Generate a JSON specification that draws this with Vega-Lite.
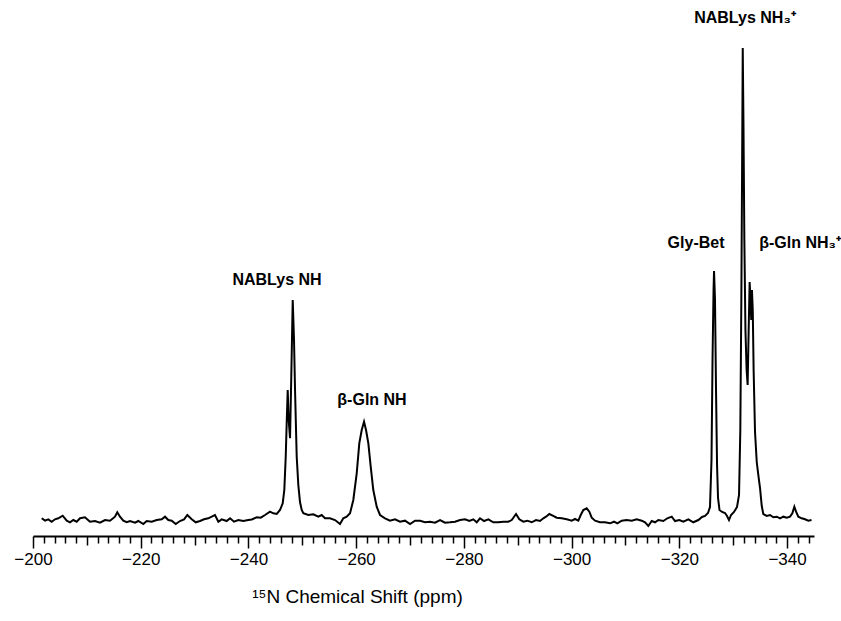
{
  "$schema": "https://vega.github.io/schema/vega-lite/v6.json",
  "width": 781,
  "height": 536,
  "autosize": {"type": "none"},
  "padding": {"left": 33, "top": 0, "right": 27, "bottom": 85},
  "background": "white",
  "config": {"view": {"stroke": null}, "font": "Liberation Sans"},
  "datasets": {
    "spectrum": [
      {"shift": -201.62, "intensity": -0.06}, {"shift": -202.23, "intensity": -0.57}, {"shift": -202.84, "intensity": -0.28},
      {"shift": -203.47, "intensity": -0.79}, {"shift": -204.08, "intensity": -0.28}, {"shift": -204.70, "intensity": -0.06},
      {"shift": -205.51, "intensity": 0.49}, {"shift": -206.26, "intensity": -0.57}, {"shift": -206.87, "intensity": -0.91},
      {"shift": -207.48, "intensity": -0.43}, {"shift": -208.11, "intensity": -0.79}, {"shift": -208.73, "intensity": -0.06},
      {"shift": -209.65, "intensity": 0.15}, {"shift": -210.58, "intensity": -0.79}, {"shift": -211.51, "intensity": -0.64},
      {"shift": -212.44, "intensity": -1.00}, {"shift": -213.37, "intensity": -0.43}, {"shift": -214.30, "intensity": -0.57},
      {"shift": -215.22, "intensity": 0.28}, {"shift": -215.65, "intensity": 1.21}, {"shift": -216.15, "intensity": 0.28},
      {"shift": -216.77, "intensity": -0.57}, {"shift": -217.40, "intensity": -0.91}, {"shift": -218.01, "intensity": -0.64},
      {"shift": -218.94, "intensity": -1.00}, {"shift": -219.55, "intensity": -0.64}, {"shift": -220.48, "intensity": -1.28},
      {"shift": -221.11, "intensity": -0.64}, {"shift": -222.04, "intensity": -0.79}, {"shift": -222.97, "intensity": -0.43},
      {"shift": -223.90, "intensity": -0.28}, {"shift": -224.51, "intensity": 0.28}, {"shift": -225.12, "intensity": -0.43},
      {"shift": -225.75, "intensity": -0.57}, {"shift": -226.50, "intensity": -1.28}, {"shift": -227.29, "intensity": -0.64},
      {"shift": -228.04, "intensity": -0.28}, {"shift": -228.65, "intensity": 0.64}, {"shift": -229.47, "intensity": -0.28},
      {"shift": -230.21, "intensity": -0.91}, {"shift": -231.01, "intensity": -0.64}, {"shift": -231.75, "intensity": -0.28},
      {"shift": -232.55, "intensity": -0.06}, {"shift": -233.18, "intensity": 0.28}, {"shift": -233.79, "intensity": 0.64},
      {"shift": -234.41, "intensity": -0.79}, {"shift": -235.04, "intensity": -0.28}, {"shift": -235.96, "intensity": -0.64},
      {"shift": -236.58, "intensity": -0.06}, {"shift": -237.32, "intensity": -0.79}, {"shift": -238.12, "intensity": -0.43},
      {"shift": -239.05, "intensity": -0.64}, {"shift": -239.97, "intensity": -0.43}, {"shift": -240.61, "intensity": -0.32},
      {"shift": -241.53, "intensity": 0.15}, {"shift": -242.28, "intensity": 0.06}, {"shift": -243.08, "intensity": 0.64},
      {"shift": -244.00, "intensity": 1.34}, {"shift": -244.62, "intensity": 1.00}, {"shift": -245.25, "intensity": 0.85},
      {"shift": -245.86, "intensity": 1.70}, {"shift": -246.36, "intensity": 3.13}, {"shift": -246.66, "intensity": 5.96},
      {"shift": -246.92, "intensity": 13.04}, {"shift": -247.10, "intensity": 20.15}, {"shift": -247.29, "intensity": 27.23},
      {"shift": -247.47, "intensity": 20.85}, {"shift": -247.72, "intensity": 16.96}, {"shift": -247.94, "intensity": 29.36},
      {"shift": -248.22, "intensity": 46.38}, {"shift": -248.46, "intensity": 37.87}, {"shift": -248.65, "intensity": 27.23},
      {"shift": -248.96, "intensity": 13.04}, {"shift": -249.26, "intensity": 7.02}, {"shift": -249.57, "intensity": 3.40},
      {"shift": -249.89, "intensity": 1.70}, {"shift": -250.19, "intensity": 1.00}, {"shift": -251.11, "intensity": 0.64},
      {"shift": -252.04, "intensity": 0.79}, {"shift": -252.97, "intensity": 0.28}, {"shift": -253.60, "intensity": 0.64},
      {"shift": -254.21, "intensity": -0.06}, {"shift": -255.14, "intensity": -0.06}, {"shift": -256.07, "intensity": -0.43},
      {"shift": -257.00, "intensity": -1.28}, {"shift": -257.61, "intensity": -0.06}, {"shift": -258.24, "intensity": 0.28},
      {"shift": -258.86, "intensity": 1.00}, {"shift": -259.47, "intensity": 3.83}, {"shift": -260.10, "intensity": 9.51},
      {"shift": -260.58, "intensity": 15.89}, {"shift": -261.03, "intensity": 18.72}, {"shift": -261.46, "intensity": 20.49},
      {"shift": -261.83, "intensity": 18.72}, {"shift": -262.26, "intensity": 15.89}, {"shift": -262.70, "intensity": 10.92},
      {"shift": -263.18, "intensity": 5.96}, {"shift": -263.81, "intensity": 2.40}, {"shift": -264.43, "intensity": 0.64},
      {"shift": -265.36, "intensity": -0.06}, {"shift": -266.28, "intensity": -0.57}, {"shift": -267.21, "intensity": -0.28},
      {"shift": -268.14, "intensity": -0.79}, {"shift": -269.07, "intensity": -0.57}, {"shift": -270.00, "intensity": -1.28},
      {"shift": -270.93, "intensity": -0.57}, {"shift": -271.86, "intensity": -0.57}, {"shift": -272.78, "intensity": -0.91},
      {"shift": -273.71, "intensity": -0.79}, {"shift": -274.64, "intensity": -1.00}, {"shift": -275.57, "intensity": -0.43},
      {"shift": -276.50, "intensity": -1.00}, {"shift": -277.42, "intensity": -0.91}, {"shift": -278.35, "intensity": -0.79},
      {"shift": -279.28, "intensity": -0.43}, {"shift": -280.21, "intensity": -0.28}, {"shift": -281.01, "intensity": -0.64},
      {"shift": -281.75, "intensity": -0.28}, {"shift": -282.38, "intensity": -0.91}, {"shift": -282.99, "intensity": -0.06},
      {"shift": -283.74, "intensity": -0.64}, {"shift": -284.54, "intensity": -0.28}, {"shift": -285.46, "intensity": -0.91},
      {"shift": -286.39, "intensity": -0.91}, {"shift": -287.32, "intensity": -0.79}, {"shift": -288.25, "intensity": -0.79},
      {"shift": -288.88, "intensity": -0.43}, {"shift": -289.68, "intensity": 0.85}, {"shift": -290.29, "intensity": -0.28},
      {"shift": -291.03, "intensity": -0.79}, {"shift": -291.78, "intensity": -0.57}, {"shift": -292.59, "intensity": -0.91},
      {"shift": -293.39, "intensity": -0.43}, {"shift": -294.13, "intensity": -0.64}, {"shift": -294.75, "intensity": -0.06},
      {"shift": -295.25, "intensity": 0.28}, {"shift": -295.86, "intensity": 0.85}, {"shift": -296.49, "intensity": 0.49},
      {"shift": -297.23, "intensity": 0.06}, {"shift": -298.16, "intensity": -0.06}, {"shift": -299.09, "intensity": -0.28},
      {"shift": -300.02, "intensity": -0.57}, {"shift": -300.63, "intensity": -0.21}, {"shift": -301.25, "intensity": -0.57},
      {"shift": -301.69, "intensity": 0.64}, {"shift": -302.17, "intensity": 1.70}, {"shift": -302.80, "intensity": 2.06},
      {"shift": -303.29, "intensity": 1.34}, {"shift": -303.73, "intensity": 0.06}, {"shift": -304.35, "intensity": -0.57},
      {"shift": -305.27, "intensity": -0.91}, {"shift": -306.20, "intensity": -0.91}, {"shift": -307.13, "intensity": -1.13},
      {"shift": -307.87, "intensity": -0.79}, {"shift": -308.49, "intensity": -1.13}, {"shift": -309.30, "intensity": -0.57},
      {"shift": -310.23, "intensity": -0.43}, {"shift": -311.16, "intensity": -0.57}, {"shift": -312.09, "intensity": -0.28},
      {"shift": -313.02, "intensity": -0.57}, {"shift": -313.63, "intensity": -0.91}, {"shift": -314.24, "intensity": -1.70},
      {"shift": -314.87, "intensity": -0.64}, {"shift": -315.49, "intensity": -0.91}, {"shift": -316.10, "intensity": -0.43},
      {"shift": -317.03, "intensity": -0.64}, {"shift": -317.77, "intensity": -0.06}, {"shift": -318.59, "intensity": 0.28},
      {"shift": -319.20, "intensity": -0.64}, {"shift": -320.00, "intensity": -0.43}, {"shift": -320.74, "intensity": -0.79},
      {"shift": -321.67, "intensity": -0.28}, {"shift": -322.60, "intensity": -0.91}, {"shift": -323.53, "intensity": -0.43},
      {"shift": -324.21, "intensity": 0.21}, {"shift": -324.77, "intensity": 0.43}, {"shift": -325.32, "intensity": 1.06},
      {"shift": -325.69, "intensity": 2.34}, {"shift": -325.97, "intensity": 12.34}, {"shift": -326.16, "intensity": 33.62},
      {"shift": -326.35, "intensity": 48.51}, {"shift": -326.44, "intensity": 52.55}, {"shift": -326.62, "intensity": 46.38},
      {"shift": -326.81, "intensity": 27.23}, {"shift": -327.00, "intensity": 11.28}, {"shift": -327.18, "intensity": 4.26},
      {"shift": -327.46, "intensity": 1.70}, {"shift": -327.93, "intensity": 1.28}, {"shift": -328.48, "intensity": 1.06},
      {"shift": -328.85, "intensity": 0.43}, {"shift": -329.22, "intensity": -0.43}, {"shift": -329.60, "intensity": 0.64},
      {"shift": -330.15, "intensity": 1.28}, {"shift": -330.71, "intensity": 2.34}, {"shift": -331.08, "intensity": 4.89},
      {"shift": -331.32, "intensity": 18.72}, {"shift": -331.51, "intensity": 46.38}, {"shift": -331.68, "intensity": 80.43},
      {"shift": -331.77, "intensity": 100.00}, {"shift": -331.90, "intensity": 84.68}, {"shift": -332.07, "intensity": 59.15},
      {"shift": -332.27, "intensity": 40.00}, {"shift": -332.49, "intensity": 31.49}, {"shift": -332.68, "intensity": 28.30},
      {"shift": -332.87, "intensity": 40.00}, {"shift": -333.05, "intensity": 50.21}, {"shift": -333.22, "intensity": 46.38},
      {"shift": -333.35, "intensity": 42.13}, {"shift": -333.48, "intensity": 48.51}, {"shift": -333.63, "intensity": 44.26},
      {"shift": -333.79, "intensity": 31.49}, {"shift": -334.05, "intensity": 18.30}, {"shift": -334.37, "intensity": 11.91},
      {"shift": -334.66, "intensity": 9.15}, {"shift": -334.98, "intensity": 6.38}, {"shift": -335.30, "intensity": 2.55},
      {"shift": -335.59, "intensity": 0.85}, {"shift": -336.23, "intensity": 0.43}, {"shift": -336.84, "intensity": 0.64},
      {"shift": -337.45, "intensity": 0.15}, {"shift": -338.08, "intensity": 0.28}, {"shift": -338.70, "intensity": -0.06},
      {"shift": -339.31, "intensity": 0.28}, {"shift": -339.94, "intensity": 0.06}, {"shift": -340.55, "intensity": 0.28},
      {"shift": -340.98, "intensity": 1.00}, {"shift": -341.35, "intensity": 2.40}, {"shift": -341.67, "intensity": 1.34},
      {"shift": -342.09, "intensity": 0.28}, {"shift": -342.72, "intensity": -0.06}, {"shift": -343.33, "intensity": -0.28},
      {"shift": -343.95, "intensity": -0.57}, {"shift": -344.54, "intensity": -0.43}
    ],
    "labels": [
      {"label": "NABLys NH", "shift": -245.30, "intensity": 50.64},
      {"label": "β-Gln NH", "shift": -262.94, "intensity": 25.11},
      {"label": "Gly-Bet", "shift": -323.10, "intensity": 58.51},
      {"label": "β-Gln NH₃⁺", "shift": -342.41, "intensity": 58.51},
      {"label": "NABLys NH₃⁺", "shift": -332.19, "intensity": 106.4}
    ]
  },
  "encoding": {
    "x": {
      "field": "shift",
      "type": "quantitative",
      "scale": {"domain": [-200, -345], "nice": false, "zero": false},
      "axis": {
        "values": [-200,-202,-204,-206,-208,-210,-212,-214,-216,-218,-220,-222,-224,-226,-228,-230,-232,-234,-236,-238,-240,-242,-244,-246,-248,-250,-252,-254,-256,-258,-260,-262,-264,-266,-268,-270,-272,-274,-276,-278,-280,-282,-284,-286,-288,-290,-292,-294,-296,-298,-300,-302,-304,-306,-308,-310,-312,-314,-316,-318,-320,-322,-324,-326,-328,-330,-332,-334,-336,-338,-340,-342,-344],
        "labelExpr": "abs(datum.value % 20) < 0.01 ? datum.label : ''",
        "labelOverlap": false,
        "labelBound": false,
        "labelFlush": false,
        "labelFontSize": 17,
        "labelFont": "Liberation Sans",
        "labelColor": "black",
        "labelPadding": 3,
        "tickColor": "black",
        "tickWidth": 1.5,
        "tickSize": {"condition": [{"test": "abs(datum.value % 20) < 0.01", "value": 12}, {"test": "abs(datum.value % 10) < 0.01", "value": 9}], "value": 7},
        "domainColor": "black",
        "domainWidth": 2,
        "grid": false,
        "title": "¹⁵N Chemical Shift (ppm)",
        "titleFont": "Liberation Sans",
        "titleFontSize": 19,
        "titleFontWeight": "normal",
        "titleColor": "black",
        "titleX": 324,
        "titleY": 66,
        "titleBaseline": "alphabetic",
        "titleAlign": "center"
      }
    },
    "y": {
      "field": "intensity",
      "type": "quantitative",
      "scale": {"domain": [-3.83, 110.21], "nice": false, "zero": false},
      "axis": null
    }
  },
  "layer": [
    {
      "data": {"name": "spectrum"},
      "mark": {"type": "line", "color": "black", "strokeWidth": 2, "interpolate": "linear"}
    },
    {
      "data": {"name": "labels"},
      "mark": {"type": "text", "fontWeight": "bold", "fontSize": 16, "font": "Liberation Sans", "color": "black", "baseline": "middle", "align": "center"},
      "encoding": {
        "text": {"field": "label"}
      }
    }
  ]
}
